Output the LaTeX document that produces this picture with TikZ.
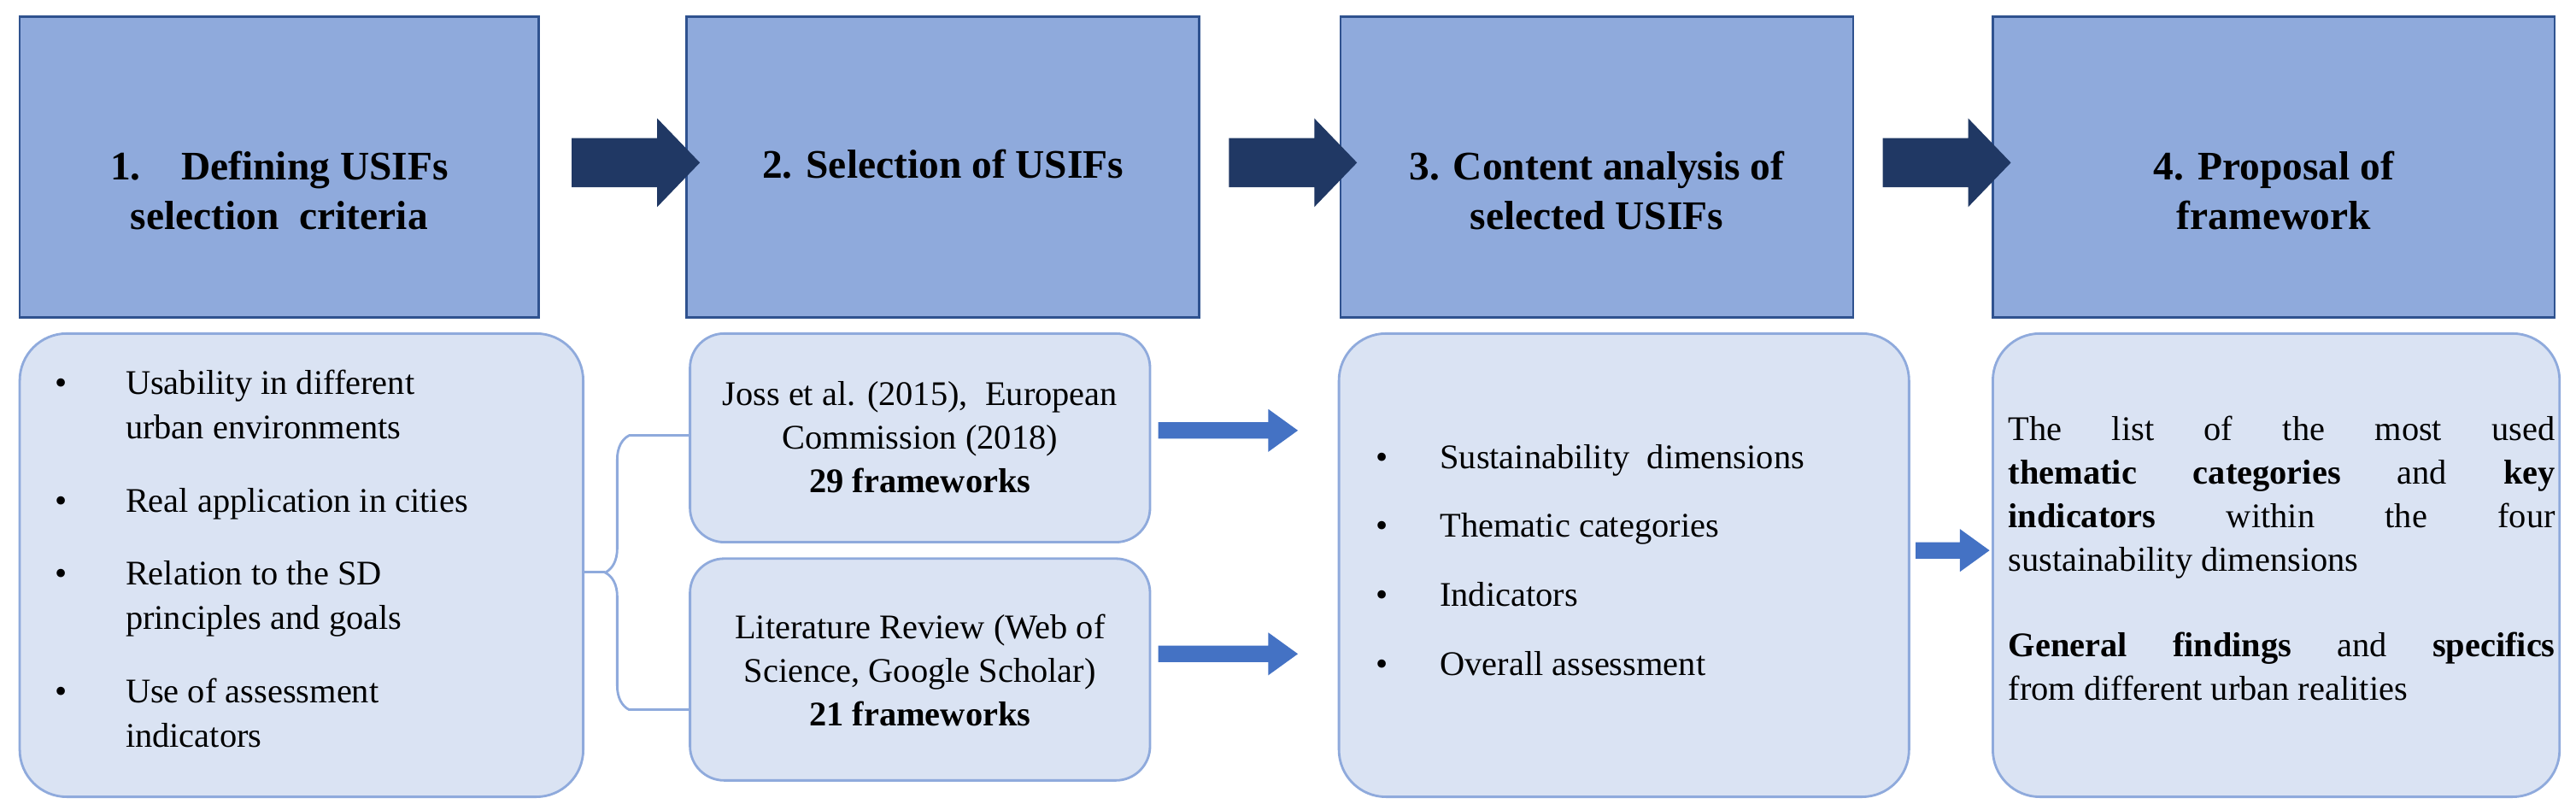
\documentclass[tikz,border=0pt]{standalone}
\usepackage{fontspec}
\setmainfont{Liberation Serif}
\usetikzlibrary{decorations.pathreplacing}
\definecolor{topf}{HTML}{8FAADC}
\definecolor{topd}{HTML}{2F528F}
\definecolor{botf}{HTML}{DAE3F3}
\definecolor{botd}{HTML}{8FAADC}
\definecolor{navy}{HTML}{203864}
\definecolor{blu}{HTML}{4472C4}
\newcommand{\jl}[1]{\makebox[6.4cm][s]{#1}}
\begin{document}
\begin{tikzpicture}[x=0.01923cm,y=-0.01923cm,
 top/.style={draw=topd,fill=topf,line width=0.8pt},
 ttl/.style={font=\fontsize{13.5}{16.5}\selectfont\bfseries,align=center},
 bot/.style={draw=botd,fill=botf,line width=0.8pt,rounded corners=0.55cm},
 txt/.style={font=\fontsize{11.5}{14.5}\selectfont,align=left,anchor=base west},
 bul/.style={font=\fontsize{11.5}{14.5}\selectfont,anchor=base}]
\useasboundingbox (0,0) rectangle (1568,493);
% top boxes
\draw[top] (12,10) rectangle (328,193);
\node[ttl] (t1) at (170,116) {1.\quad Defining USIFs\\selection\ \ criteria};
\draw[top] (418,10) rectangle (730,193);
\node[ttl] (t2) at (574,100) {2. Selection of USIFs};
\draw[top] (816,10) rectangle (1128,193);
\node[ttl] (t3) at (972,116) {3. Content analysis of\\selected USIFs};
\draw[top] (1213,10) rectangle (1555,193);
\node[ttl] (t4) at (1384,116) {4. Proposal of\\framework};
% big arrows
\foreach \a in {348,748,1146}{
 \fill[navy] (\a,84) -- (\a+52,84) -- (\a+52,72) -- (\a+78,99) -- (\a+52,126) -- (\a+52,114) -- (\a,114) -- cycle;}
% bottom box 1
\draw[bot] (12,203) rectangle (355,485);
\foreach \y/\t in {240/{Usability in different},267/{urban environments},312/{Real application in cities},
 356/{Relation to the SD},383/{principles and goals},428/{Use of assessment},455/{indicators}}
 \node[txt] at (70,\y) {\t};
\foreach \y in {240,312,356,428} \node[bul] at (37,\y) {\textbullet};
% box 2
\draw[bot,rounded corners=0.4cm] (420,203) rectangle (700,330);
\node[font=\fontsize{11.5}{14.5}\selectfont,align=center] (b2a) at (560,266) {Joss et al. (2015),\ \ European\\Commission (2018)\\\textbf{29 frameworks}};
\draw[bot,rounded corners=0.4cm] (420,340) rectangle (700,475);
\node[font=\fontsize{11.5}{14.5}\selectfont,align=center] (b2b) at (560,408) {Literature Review (Web of\\Science, Google Scholar)\\\textbf{21 frameworks}};
% box 3
\draw[bot] (815,203) rectangle (1162,485);
\foreach \y/\t in {285/{Sustainability\ \ dimensions},327/{Thematic categories},369/{Indicators},411/{Overall assessment}}{
 \node[txt] at (870,\y) {\t}; \node[bul] at (841,\y) {\textbullet};}
% box 4
\draw[bot] (1213,203) rectangle (1558,485);
\node[font=\fontsize{11.5}{14.5}\selectfont,anchor=west] (b4) at (1216,342) {\begin{tabular}{@{}l@{}}\jl{The list of the most used}\\\jl{\textbf{thematic categories} and \textbf{key}}\\\jl{\textbf{indicators} within the four}\\sustainability dimensions\\[14pt]\jl{\textbf{General findings} and \textbf{specifics}}\\from different urban realities\end{tabular}};
% brace
\draw[botd,line width=0.8pt] (355,348) -- (368,348);
\draw[botd,line width=0.8pt,decorate,decoration={brace,amplitude=8pt,mirror}] (383,265) -- (383,432);
\draw[botd,line width=0.8pt] (383,265) -- (420,265);
\draw[botd,line width=0.8pt] (383,432) -- (420,432);
% small arrows
\foreach \x/\y/\l in {705/262/85,705/398/85,1166/335/45}{
 \fill[blu] (\x,\y-5) -- (\x+\l-18,\y-5) -- (\x+\l-18,\y-13) -- (\x+\l,\y) -- (\x+\l-18,\y+13) -- (\x+\l-18,\y+5) -- (\x,\y+5) -- cycle;}
\end{tikzpicture}
\end{document}
